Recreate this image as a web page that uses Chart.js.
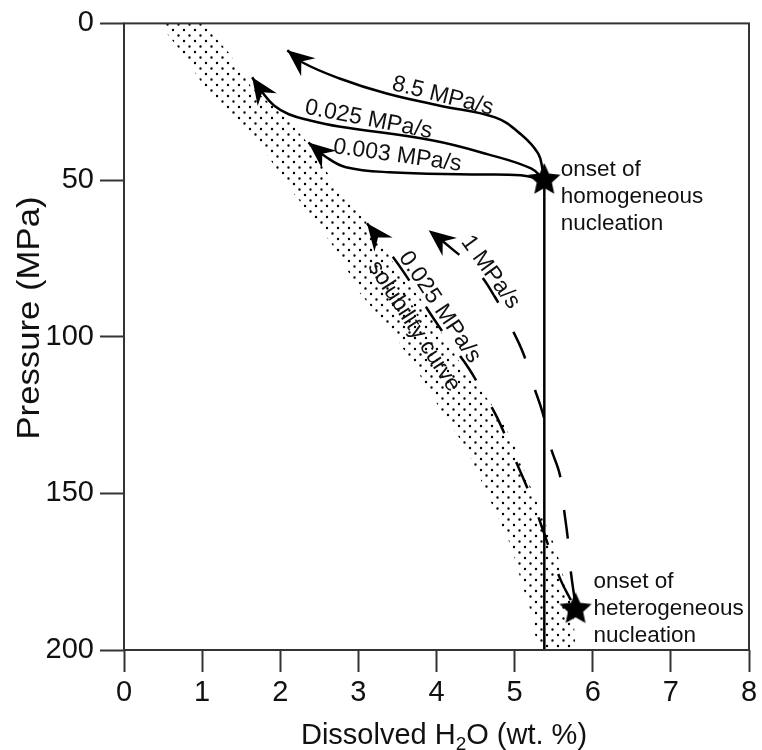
<!DOCTYPE html>
<html>
<head>
<meta charset="utf-8">
<script src="https://cdn.jsdelivr.net/npm/chart.js@4.4.1/dist/chart.umd.min.js"></script>
<style>
  html, body { margin: 0; padding: 0; background: #fff; }
  #wrap { width: 762px; height: 750px; }
</style>
</head>
<body>
<div id="wrap"><canvas id="chart" width="762" height="750"></canvas></div>
<script>
// axis ticks
const xTicks = [0, 1, 2, 3, 4, 5, 6, 7, 8];
const yTicks = [0, 50, 100, 150, 200];

// solubility band (stippled), left and right edges: wt.% vs MPa
const bandLeftX = [0.45, 0.75, 1.03, 1.44, 1.82, 2.11, 2.41, 2.69, 2.84, 3.02, 3.45, 3.80, 4.08, 4.37, 4.57, 4.76, 4.96, 5.08, 5.21, 5.30];
const bandLeftP = [0, 9.6, 20.4, 30.9, 41.5, 52.3, 61.9, 71.5, 77.8, 86.1, 98.9, 112.9, 124.4, 135.2, 145.8, 156.3, 167.1, 177.7, 188.2, 200];
const bandRightX = [1.01, 1.35, 1.63, 2.11, 2.46, 2.71, 2.92, 3.22, 3.48, 3.81, 4.28, 4.79, 5.01, 5.17, 5.34, 5.52, 5.64, 5.75, 5.78];
const bandRightP = [0, 9.6, 20.4, 30.9, 41.5, 52.3, 58.1, 67, 77.8, 88.4, 107.5, 124.4, 135.2, 145.8, 156.3, 167.1, 177.7, 188.2, 200];

// decompression paths after homogeneous nucleation (star -> arrow tip)
const fastX = [5.38, 5.36, 5.30, 5.08, 4.75, 4.03, 3.35, 2.75, 2.28, 2.09];
const fastP = [50, 46.9, 41.5, 35.4, 30.0, 26.2, 22.3, 17.5, 12.4, 8.6];
const midX = [5.38, 5.21, 4.66, 3.94, 2.75, 2.37, 2.11, 1.92, 1.77, 1.64];
const midP = [50, 46.3, 41.8, 37.3, 32.9, 30.9, 29.0, 26.2, 22.0, 17.2];
const slowX = [5.38, 5.08, 4.45, 3.39, 2.84, 2.59, 2.36];
const slowP = [50, 48.5, 48.2, 47.5, 45.9, 42.7, 38.0];

// paths after heterogeneous nucleation (dashed)
const het1X = [5.77, 5.72, 5.68, 5.63, 5.58, 5.46, 5.36, 5.24, 5.11, 4.94, 4.75, 4.51, 4.19, 3.90];
const het1P = [184.1, 175.1, 164.3, 154.7, 144.2, 135.2, 124.4, 115.5, 105.3, 96.3, 87.4, 78.8, 71.8, 66.0];
const hetSlowX = [5.72, 5.59, 5.46, 5.34, 5.21, 5.01, 4.78, 4.60, 4.41, 4.18, 3.96, 3.77, 3.58, 3.35, 3.11];
const hetSlowP = [184.1, 177.7, 168.7, 160.1, 151.2, 139.4, 126.0, 118.0, 110.0, 102.1, 94.1, 86.8, 79.4, 71.5, 63.8];

// vertical path (no degassing)
const vertX = [5.38, 5.38];
const vertP = [50, 200];

// nucleation onsets
const starX = [5.38, 5.78];
const starP = [50, 187];

// annotations (text, anchor in data units, angle in degrees)
const notes = [
  { text: '8.5 MPa/s', x: 4.08, y: 23.2, angle: 14 },
  { text: '0.025 MPa/s', x: 3.13, y: 30.7, angle: 11 },
  { text: '0.003 MPa/s', x: 3.50, y: 42.2, angle: 8 },
  { text: '1 MPa/s', x: 4.69, y: 79.4, angle: 54 },
  { text: '0.025 MPa/s', x: 4.04, y: 90.6, angle: 56 },
  { text: 'solubility curve', x: 3.71, y: 96.7, angle: 57 }
];
const sideNotes = [
  { lines: ['onset of', 'homogeneous', 'nucleation'], x: 5.59, y: 48.8 },
  { lines: ['onset of', 'heterogeneous', 'nucleation'], x: 6.01, y: 180.2 }
];

const FONT = '"Liberation Sans", Arial, Helvetica, sans-serif';
const pts = (xs, ps) => xs.map((x, i) => ({ x: x, y: ps[i] }));

const canvas = document.getElementById('chart');
const c2d = canvas.getContext('2d');

// dot pattern for the stippled band
function dotPattern() {
  const c = document.createElement('canvas');
  c.width = 11; c.height = 11;
  const g = c.getContext('2d');
  g.fillStyle = '#000';
  g.beginPath();
  g.arc(2.5, 2.5, 1.2, 0, Math.PI * 2);
  g.arc(8, 8, 1.2, 0, Math.PI * 2);
  g.fill();
  return c2d.createPattern(c, 'repeat');
}

function starImage(r) {
  const s = Math.ceil(r * 2 + 2);
  const c = document.createElement('canvas');
  c.width = s; c.height = s;
  const g = c.getContext('2d');
  g.translate(s / 2, s / 2);
  g.beginPath();
  for (let i = 0; i < 10; i++) {
    const rr = i % 2 ? r * 0.47 : r;
    const a = -Math.PI / 2 + i * Math.PI / 5;
    g.lineTo(rr * Math.cos(a), rr * Math.sin(a));
  }
  g.closePath();
  g.fillStyle = '#000';
  g.fill();
  return c;
}

const band = pts(bandLeftX, bandLeftP).concat(pts(bandRightX, bandRightP).reverse());

function pathSet(xs, ps, dash) {
  return {
    data: pts(xs, ps),
    borderColor: '#000',
    borderWidth: 2.5,
    borderDash: dash || [],
    pointRadius: 0,
    tension: 0.4,
    fill: false,
    arrow: true
  };
}

// arrowheads at the end of each path
const arrowPlugin = {
  id: 'arrows',
  afterDatasetsDraw(chart) {
    const ctx = chart.ctx;
    chart.data.datasets.forEach((ds, i) => {
      if (!ds.arrow) return;
      const pts = chart.getDatasetMeta(i).data;
      const last = pts[pts.length - 1], prev = pts[pts.length - 2];
      const ang = Math.atan2(last.y - prev.y, last.x - prev.x);
      ctx.save();
      ctx.translate(last.x, last.y);
      ctx.rotate(ang);
      ctx.fillStyle = '#000';
      ctx.beginPath();
      ctx.moveTo(0, 0);
      ctx.lineTo(-27, -11.5);
      ctx.lineTo(-18, 0);
      ctx.lineTo(-27, 11.5);
      ctx.closePath();
      ctx.fill();
      ctx.restore();
    });
  }
};

// frame, labels and axis titles
const textPlugin = {
  id: 'texts',
  afterDraw(chart) {
    const ctx = chart.ctx;
    const a = chart.chartArea;
    const xs = chart.scales.x, ys = chart.scales.y;
    ctx.save();
    ctx.strokeStyle = '#333';
    ctx.lineWidth = 2;
    ctx.strokeRect(a.left, a.top, a.right - a.left, a.bottom - a.top);

    ctx.fillStyle = '#111';
    ctx.font = '23px ' + FONT;
    ctx.textAlign = 'center';
    ctx.textBaseline = 'middle';
    notes.forEach(n => {
      ctx.save();
      ctx.translate(xs.getPixelForValue(n.x), ys.getPixelForValue(n.y));
      ctx.rotate(n.angle * Math.PI / 180);
      ctx.fillText(n.text, 0, 0);
      ctx.restore();
    });

    ctx.font = '22.5px ' + FONT;
    ctx.textAlign = 'left';
    ctx.textBaseline = 'alphabetic';
    sideNotes.forEach(n => {
      const px = xs.getPixelForValue(n.x), py = ys.getPixelForValue(n.y);
      n.lines.forEach((t, k) => ctx.fillText(t, px, py + k * 27));
    });

    // x title with subscript
    ctx.font = '29px ' + FONT;
    const p1 = 'Dissolved H', p3 = 'O (wt. %)';
    const w1 = ctx.measureText(p1).width, w3 = ctx.measureText(p3).width;
    ctx.font = '19px ' + FONT;
    const w2 = ctx.measureText('2').width;
    let x0 = 444 - (w1 + w2 + w3) / 2;
    const base = 744;
    ctx.font = '29px ' + FONT;
    ctx.fillText(p1, x0, base);
    ctx.font = '19px ' + FONT;
    ctx.fillText('2', x0 + w1, base + 6);
    ctx.font = '29px ' + FONT;
    ctx.fillText(p3, x0 + w1 + w2, base);

    // y title
    ctx.translate(30, 318);
    ctx.rotate(-Math.PI / 2);
    ctx.scale(1.12, 1);
    ctx.textAlign = 'center';
    ctx.textBaseline = 'middle';
    ctx.font = '31px ' + FONT;
    ctx.fillText('Pressure (MPa)', 0, 0);
    ctx.restore();
  }
};

new Chart(canvas, {
  type: 'line',
  data: {
    datasets: [
      {
        data: band,
        fill: 'shape',
        backgroundColor: dotPattern(),
        borderWidth: 0,
        pointRadius: 0,
        tension: 0
      },
      {
        data: pts(vertX, vertP),
        borderColor: '#000',
        borderWidth: 2.5,
        pointRadius: 0,
        fill: false
      },
      pathSet(fastX, fastP),
      pathSet(midX, midP),
      pathSet(slowX, slowP),
      pathSet(het1X, het1P, [29, 33]),
      pathSet(hetSlowX, hetSlowP, [29, 31]),
      {
        data: pts(starX, starP),
        showLine: false,
        pointStyle: starImage(17),
        pointRadius: 12,
        clip: false
      }
    ]
  },
  options: {
    responsive: false,
    animation: false,
    layout: { padding: { top: 23, right: 10, left: 0, bottom: 0 } },
    plugins: { legend: { display: false }, tooltip: { enabled: false } },
    scales: {
      x: {
        type: 'linear',
        min: 0, max: 8,
        afterBuildTicks: s => { s.ticks = xTicks.map(v => ({ value: v })); },
        afterFit: s => { s.height = 100; },
        ticks: { font: { size: 29, family: FONT }, color: '#111', padding: 4, maxRotation: 0 },
        grid: { drawOnChartArea: false, drawTicks: true, tickLength: 22, tickColor: '#333', tickWidth: 2 },
        border: { display: false }
      },
      y: {
        type: 'linear',
        reverse: true,
        min: 0, max: 200,
        afterBuildTicks: s => { s.ticks = yTicks.map(v => ({ value: v })); },
        afterFit: s => { s.width = 124; },
        ticks: { font: { size: 29, family: FONT }, color: '#111', padding: 6 },
        grid: { drawOnChartArea: false, drawTicks: true, tickLength: 24, tickColor: '#333', tickWidth: 2 },
        border: { display: false }
      }
    }
  },
  plugins: [arrowPlugin, textPlugin]
});
</script>
</body>
</html>
